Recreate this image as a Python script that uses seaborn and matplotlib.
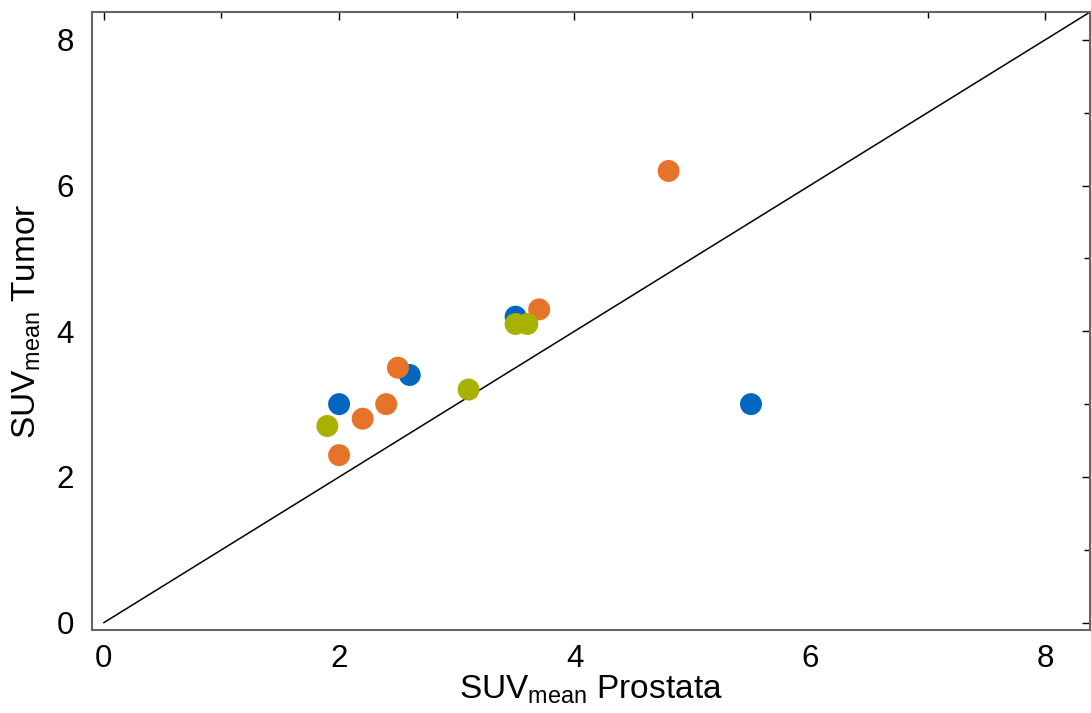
import numpy as np
import pandas as pd
import seaborn as sns
import matplotlib.pyplot as plt

# values, one list per colour group
blue_x = [2.0, 2.6, 3.5, 5.5]
blue_y = [3.0, 3.4, 4.2, 3.0]
orange_x = [4.8, 3.7, 2.5, 2.4, 2.2, 2.0]
orange_y = [6.2, 4.3, 3.5, 3.0, 2.8, 2.3]
olive_x = [1.9, 3.1, 3.5, 3.6]
olive_y = [2.7, 3.2, 4.1, 4.1]

groups = ["A", "B", "C"]
colors = ["#0066c0", "#e6732a", "#a8b000"]
ticks = [0, 2, 4, 6, 8]
lim = (-0.1, 8.38)

df = pd.DataFrame({
    "prostata": blue_x + orange_x + olive_x,
    "tumor": blue_y + orange_y + olive_y,
    "group": [groups[0]] * len(blue_x) + [groups[1]] * len(orange_x) + [groups[2]] * len(olive_x),
})

sns.set_style("white")
plt.rcParams["font.family"] = ["Liberation Sans", "DejaVu Sans"]
plt.rcParams["mathtext.fontset"] = "custom"
plt.rcParams["mathtext.rm"] = "Liberation Sans"
plt.rcParams["mathtext.it"] = "Liberation Sans"
plt.rcParams["text.color"] = "black"
plt.rcParams["axes.labelcolor"] = "black"
plt.rcParams["xtick.color"] = "black"
plt.rcParams["ytick.color"] = "black"

fig = plt.figure(figsize=(10.91, 7.13), dpi=100)
ax = fig.add_axes([0.0843, 0.1164, 0.9147, 0.8666])

# identity line from the origin
ax.plot([0, lim[1]], [0, lim[1]], color="black", lw=1.1, zorder=1)

sns.scatterplot(data=df, x="prostata", y="tumor", hue="group", hue_order=groups,
                palette=colors, s=250, linewidth=0, legend=False, ax=ax, zorder=2)

ax.set_xlim(lim)
ax.set_ylim(lim)
ax.set_xticks(ticks)
ax.set_yticks(ticks)
ax.set_xticks([1, 3, 5, 7], minor=True)
ax.set_yticks([1, 3, 5, 7], minor=True)
ax.tick_params(which="both", direction="in", top=True, right=True,
               labelsize=22.5, width=1)
ax.tick_params(which="major", length=6)
ax.tick_params(which="minor", length=4)
ax.tick_params(axis="x", which="major", pad=10)
ax.tick_params(axis="y", which="major", pad=13)
for sp in ax.spines.values():
    sp.set_color("#666666")
    sp.set_linewidth(1.5)

ax.set_xlabel(r"SUV$_{\mathrm{mean}}$ Prostata", fontsize=24, labelpad=0)
ax.set_ylabel(r"SUV$_{\mathrm{mean}}$ Tumor", fontsize=24, labelpad=10)

fig.savefig("out.png", dpi=100)
